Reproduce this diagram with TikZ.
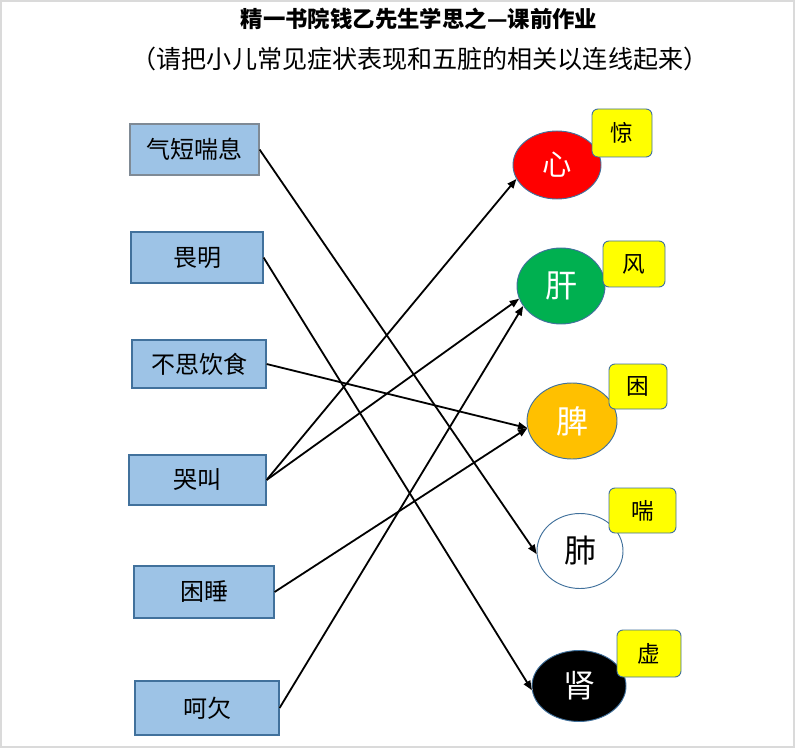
\documentclass[tikz,border=0pt]{standalone}
\usepackage{fontspec}
\setmainfont{Liberation Serif}
\newfontfamily\cjk{Noto Sans CJK SC}
\usetikzlibrary{arrows.meta,shapes.geometric}
\definecolor{boxblue}{HTML}{9DC3E6}
\definecolor{bordblue}{HTML}{41719C}
\definecolor{bordgray}{HTML}{7F8A95}
\definecolor{organred}{HTML}{FF0000}
\definecolor{organgreen}{HTML}{00B050}
\definecolor{organorange}{HTML}{FFC000}
\definecolor{tagyellow}{HTML}{FFFF00}
\definecolor{framegray}{HTML}{DADADA}
\tikzset{
  symbox/.style={draw=bordblue, fill=boxblue, line width=0.8pt, inner sep=0pt,
    font=\cjk\fontsize{18}{20}\selectfont},
  organ/.style={ellipse, draw=bordblue, line width=0.7pt, inner sep=0pt,
    font=\cjk\fontsize{24}{26}\selectfont},
  tagbox/.style={draw=bordblue, fill=tagyellow, line width=0.7pt, rounded corners=4.5pt,
    inner sep=0pt, font=\cjk\fontsize{17}{19}\selectfont},
  link/.style={line width=1.3pt, -{Triangle[length=7pt,width=5.5pt]}},
  linkshadow/.style={line width=1.5pt, draw=black!16},
}
\begin{document}
\begin{tikzpicture}[x=0.75pt,y=-0.75pt]
\useasboundingbox (0,0) rectangle (795,748);
\draw[framegray, line width=1.5pt] (1,1) rectangle (793.5,746.5);

% titles
\node[font=\cjk\bfseries\fontsize{16.8}{19}\selectfont] (title) at (419,19) {精一书院钱乙先生学思之—课前作业};
\node[font=\cjk\fontsize{18.8}{21}\selectfont] (subtitle) at (420,59) {（请把小儿常见症状表现和五脏的相关以连线起来）};

% symptom boxes
\node[symbox, draw=bordgray, minimum width=96.75pt, minimum height=38.25pt] (qd) at (194.5,149.5) {气短喘息};
\node[symbox, minimum width=99pt, minimum height=38.25pt] (wm) at (197,257.5) {畏明};
\node[symbox, minimum width=100.5pt, minimum height=36pt] (bs) at (199,364) {不思饮食};
\node[symbox, minimum width=102.75pt, minimum height=37.5pt] (kj) at (197.5,480) {哭叫};
\node[symbox, minimum width=105pt, minimum height=39pt] (ks) at (204,592) {困睡};
\node[symbox, minimum width=108pt, minimum height=40.5pt] (hq) at (207,708) {呵欠};

% organs
\node[organ, fill=organred, text=white, minimum width=66pt, minimum height=51pt,
  font=\cjk\fontsize{22}{24}\selectfont] (xin) at (557,165) {心};
\node[organ, fill=organgreen, text=white, minimum width=66pt, minimum height=57pt] (gan) at (561,286) {肝};
\node[organ, fill=organorange, text=white, minimum width=67.5pt, minimum height=57pt] (pi) at (572,421) {脾};
\node[organ, fill=white, text=black, minimum width=64.5pt, minimum height=56.25pt] (fei) at (580,551) {肺};
\node[organ, fill=black, text=white, minimum width=70.5pt, minimum height=53.25pt] (shen) at (579,686) {肾};

% tags
\node[tagbox, minimum width=45pt, minimum height=36pt] (tjing) at (622,133) {惊};
\node[tagbox, minimum width=46.5pt, minimum height=34.5pt] (tfeng) at (634,264) {风};
\node[tagbox, minimum width=43.5pt, minimum height=33.75pt] (tkun) at (638,386.5) {困};
\node[tagbox, minimum width=50.25pt, minimum height=33.75pt] (tchuan) at (642.5,510.5) {喘};
\node[tagbox, minimum width=48pt, minimum height=35.25pt] (txu) at (649,653.5) {虚};

% shadows of connectors
\begin{scope}[shift={(1.5,1.5)}]
\draw[linkshadow] (qd.east) -- (fei.184);
\draw[linkshadow] (wm.east) -- (shen.185);
\draw[linkshadow] (bs.east) -- (pi.189);
\draw[linkshadow] (kj.east) -- (xin.199);
\draw[linkshadow] (kj.east) -- (gan.197);
\draw[linkshadow] (ks.east) -- (pi.189);
\draw[linkshadow] (hq.east) -- (gan.208);
\end{scope}

% connectors
\draw[link] (qd.east) -- (fei.184);
\draw[link] (wm.east) -- (shen.185);
\draw[link] (bs.east) -- (pi.189);
\draw[link] (kj.east) -- (xin.199);
\draw[link] (kj.east) -- (gan.197);
\draw[link] (ks.east) -- (pi.189);
\draw[link] (hq.east) -- (gan.208);
\end{tikzpicture}
\end{document}
